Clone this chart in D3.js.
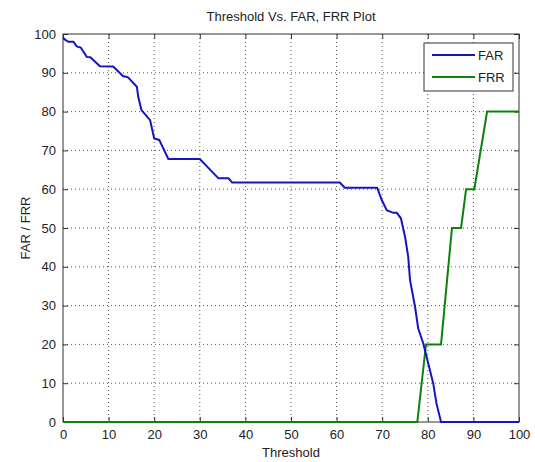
<!DOCTYPE html>
<html>
<head>
<meta charset="utf-8">
<script src="https://cdn.jsdelivr.net/npm/d3@7"></script>
<style>
	body { margin: 0; background: #fff; }
	svg text { font-family: "Liberation Sans", Arial, sans-serif; fill: #222; }
</style>
</head>
<body>
<div id="chart"></div>
<script>
/* values */
var farX = [0, 0.5, 1.2, 2.3, 3, 3.9, 5.2, 6, 8.1, 11, 13.2, 14.2, 16.2, 16.5, 17.2, 19.1, 20, 21.1, 23.1, 30, 34.1, 36.3, 37.1, 60.7, 61.8, 68.9, 69.9, 71, 72.4, 73.2, 74.1, 75, 75.7, 76.1, 77.2, 77.9, 79, 80.1, 81.2, 81.9, 82.9, 100];
var farY = [99, 98.5, 98, 98, 96.8, 96.5, 94.1, 94, 91.7, 91.6, 89.1, 88.9, 86.4, 83.8, 80.4, 77.8, 73.1, 72.7, 67.8, 67.8, 62.8, 62.8, 61.7, 61.7, 60.4, 60.4, 57.2, 54.6, 53.9, 53.9, 52.5, 47.8, 42.6, 36.6, 29.7, 24.1, 20.3, 15.1, 9.9, 4.8, 0, 0];

var frrX = [0, 77.7, 79.6, 82.9, 85.3, 87.3, 88.4, 90.2, 93, 100];
var frrY = [0, 0, 20, 20, 50, 50, 60, 60, 80, 80];

var xTicks = [0, 10, 20, 30, 40, 50, 60, 70, 80, 90, 100];
var yTicks = [0, 10, 20, 30, 40, 50, 60, 70, 80, 90, 100];

var seriesNames = ["FAR", "FRR"];
var seriesColors = ["#1414c4", "#0c820c"];

var margin = {top: 34, right: 16, bottom: 40, left: 63};
var W = 535, H = 462;
var width = W - margin.left - margin.right;
var height = H - margin.top - margin.bottom;

var svg = d3.select("#chart")
	.append("svg")
	.attr("width", W)
	.attr("height", H);

var g = svg.append("g")
	.attr("transform", "translate(" + margin.left + "," + margin.top + ")");

var x = d3.scaleLinear().domain([0, 100]).range([0, width]);
var y = d3.scaleLinear().domain([0, 100]).range([height, 0]);

/* dotted grid */
g.append("g")
	.selectAll("line")
	.data(xTicks.slice(1, -1))
	.join("line")
	.attr("x1", function(d){ return x(d); })
	.attr("x2", function(d){ return x(d); })
	.attr("y1", 0)
	.attr("y2", height)
	.attr("stroke", "#555")
	.attr("stroke-width", 1)
	.attr("stroke-dasharray", "1,3");

g.append("g")
	.selectAll("line")
	.data(yTicks.slice(1, -1))
	.join("line")
	.attr("y1", function(d){ return y(d); })
	.attr("y2", function(d){ return y(d); })
	.attr("x1", 0)
	.attr("x2", width)
	.attr("stroke", "#555")
	.attr("stroke-width", 1)
	.attr("stroke-dasharray", "1,3");

/* axes, ticks pointing inward like matlab */
var styleAxis = function(sel){
	sel.select(".domain").remove();
	sel.selectAll(".tick line").attr("stroke", "#333");
	sel.selectAll(".tick text").style("font-size", "13px").attr("fill", "#333");
};

g.append("g")
	.attr("transform", "translate(0," + height + ")")
	.call(d3.axisBottom(x).tickValues(xTicks).tickSizeInner(-5).tickSizeOuter(0).tickPadding(8))
	.call(styleAxis);

g.append("g")
	.call(d3.axisLeft(y).tickValues(yTicks).tickSizeInner(-5).tickSizeOuter(0).tickPadding(7))
	.call(styleAxis);

g.append("g")
	.call(d3.axisTop(x).tickValues(xTicks).tickSizeInner(-5).tickSizeOuter(0).tickFormat(""))
	.call(styleAxis);

g.append("g")
	.attr("transform", "translate(" + width + ",0)")
	.call(d3.axisRight(y).tickValues(yTicks).tickSizeInner(-5).tickSizeOuter(0).tickFormat(""))
	.call(styleAxis);

g.append("rect")
	.attr("width", width)
	.attr("height", height)
	.attr("fill", "none")
	.attr("stroke", "#333")
	.attr("stroke-width", 1);

/* lines */
var plotLine = d3.line()
	.x(function(d){ return x(d[0]); })
	.y(function(d){ return y(d[1]); });

var frrData = frrX.map(function(d, i){ return [d, frrY[i]]; });
var farData = farX.map(function(d, i){ return [d, farY[i]]; });

g.append("path")
	.datum(frrData)
	.attr("fill", "none")
	.attr("stroke", seriesColors[1])
	.attr("stroke-width", 2)
	.attr("d", plotLine);

g.append("path")
	.datum(farData)
	.attr("fill", "none")
	.attr("stroke", seriesColors[0])
	.attr("stroke-width", 2)
	.attr("d", plotLine);

/* legend */
var legend = svg.append("g")
	.attr("transform", "translate(424,43)");

legend.append("rect")
	.attr("width", 89)
	.attr("height", 48)
	.attr("fill", "#fff")
	.attr("stroke", "#333");

seriesNames.forEach(function(name, i){
	legend.append("line")
		.attr("x1", 8)
		.attr("x2", 51)
		.attr("y1", 12 + i * 22)
		.attr("y2", 12 + i * 22)
		.attr("stroke", seriesColors[i])
		.attr("stroke-width", 2);
	legend.append("text")
		.attr("x", 54)
		.attr("y", 12 + i * 22)
		.attr("dy", "0.35em")
		.style("font-size", "13px")
		.text(name);
});

/* titles */
svg.append("text")
	.attr("x", margin.left + width / 2)
	.attr("y", 21)
	.style("text-anchor", "middle")
	.style("font-size", "13px")
	.text("Threshold Vs. FAR, FRR Plot");

svg.append("text")
	.attr("x", margin.left + width / 2)
	.attr("y", 457)
	.style("text-anchor", "middle")
	.style("font-size", "13px")
	.text("Threshold");

svg.append("text")
	.attr("transform", "rotate(-90)")
	.attr("x", -(margin.top + height / 2))
	.attr("y", 30)
	.style("text-anchor", "middle")
	.style("font-size", "13px")
	.text("FAR / FRR");
</script>
</body>
</html>
